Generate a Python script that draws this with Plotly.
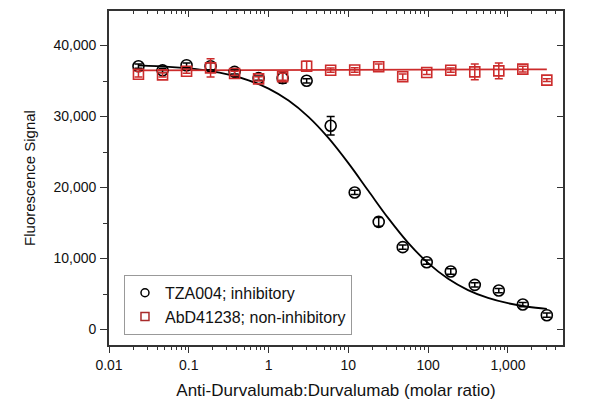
import plotly.graph_objects as go

# Molar ratios (serial 2-fold dilution)
ratio = [0.0234, 0.0469, 0.0938, 0.1875, 0.375, 0.75, 1.5, 3, 6, 12, 24, 48, 96, 192, 384, 768, 1536, 3072]

# TZA004; inhibitory
tza_y = [37080, 36500, 37230, 37080, 36290, 35400, 35400, 35030, 28700, 19300, 15160, 11600, 9480, 8170, 6290, 5490, 3520, 2020]
tza_err = [300, 300, 300, 500, 300, 300, 700, 300, 1300, 300, 600, 300, 300, 400, 300, 300, 300, 300]

# AbD41238; non-inhibitory
abd_y = [35960, 35870, 36380, 36850, 36060, 35300, 35590, 37080, 36520, 36550, 37000, 35590, 36200, 36520, 36290, 36430, 36670, 35120]
abd_err = [400, 300, 300, 1300, 300, 300, 500, 700, 300, 300, 400, 400, 300, 300, 1100, 1100, 400, 200]

# Fitted curves
fit_x = [0.0234, 0.0562, 0.1, 0.178, 0.316, 0.562, 1.0, 1.78, 3.16, 5.62, 10, 17.8, 31.6, 56.2, 100, 178, 316, 562, 1000, 1778, 3072]
tza_fit = [37195, 36997, 36772, 36427, 35898, 35103, 33929, 32252, 29952, 26985, 23432, 19542, 15682, 12208, 9343, 7147, 5556, 4451, 3704, 3209, 2896]
abd_fit_x = [0.0234, 3072]
abd_fit = [36500, 36650]

series_names = ["TZA004; inhibitory", "AbD41238; non-inhibitory"]

x_tickvals = [0.01, 0.1, 1, 10, 100, 1000]
x_ticktext = ["0.01", "0.1", "1", "10", "100", "1,000"]
y_tickvals = [0, 10000, 20000, 30000, 40000]
y_ticktext = ["0", "10,000", "20,000", "30,000", "40,000"]

RED = "#cc2b2b"
AX = "#333333"
FONT = "Liberation Sans, Arial, sans-serif"

fig = go.Figure()
fig.add_trace(go.Scatter(x=fit_x, y=tza_fit, mode="lines", line=dict(color="black", width=1.8, shape="spline"),
                         showlegend=False, hoverinfo="skip"))
fig.add_trace(go.Scatter(x=abd_fit_x, y=abd_fit, mode="lines", line=dict(color=RED, width=1.8),
                         showlegend=False, hoverinfo="skip"))
fig.add_trace(go.Scatter(x=ratio, y=tza_y, mode="markers", name=series_names[0], showlegend=False,
                         marker=dict(symbol="circle-open", size=11, color="black", line=dict(width=1.6)),
                         error_y=dict(type="data", array=tza_err, color="black", thickness=1.5, width=4)))
fig.add_trace(go.Scatter(x=ratio, y=abd_y, mode="markers", name=series_names[1], showlegend=False,
                         marker=dict(symbol="square-open", size=10, color=RED, line=dict(width=1.6)),
                         error_y=dict(type="data", array=abd_err, color=RED, thickness=1.5, width=4)))
# legend-only entries with smaller symbols
fig.add_trace(go.Scatter(x=[None], y=[None], mode="markers", name=series_names[0],
                         marker=dict(symbol="circle-open", size=8, color="black", line=dict(width=1.5))))
fig.add_trace(go.Scatter(x=[None], y=[None], mode="markers", name=series_names[1],
                         marker=dict(symbol="square-open", size=8, color="#a82a2a", line=dict(width=1.5))))
# dummy trace for mirrored axes
fig.add_trace(go.Scatter(x=[1], y=[20000], xaxis="x2", yaxis="y2", mode="markers",
                         marker=dict(opacity=0), showlegend=False, hoverinfo="skip"))

xr = [-2, 3.69]
yr = [-2180, 44860]

fig.update_layout(
    width=600, height=400,
    margin=dict(l=109, r=37, t=11, b=55),
    paper_bgcolor="white", plot_bgcolor="white",
    font=dict(family=FONT, size=14, color="#111"),
    xaxis=dict(type="log", range=xr, tickvals=x_tickvals, ticktext=x_ticktext, automargin=False,
               ticks="outside", ticklen=6, tickwidth=1.3, tickcolor=AX,
               showline=True, linecolor=AX, linewidth=1.7, showgrid=False, zeroline=False,
               minor=dict(ticks="outside", ticklen=3, tickwidth=1, tickcolor=AX, dtick="D1", showgrid=False),
               title=dict(text="Anti-Durvalumab:Durvalumab (molar ratio)", font=dict(size=17), standoff=12),
               tickfont=dict(size=14)),
    yaxis=dict(range=yr, tickvals=y_tickvals, ticktext=y_ticktext, automargin=False,
               ticks="outside", ticklen=7, tickwidth=1.3, tickcolor=AX,
               showline=True, linecolor=AX, linewidth=1.7, showgrid=False, zeroline=False,
               minor=dict(ticks="outside", ticklen=4, tickwidth=1, tickcolor=AX, dtick=5000, showgrid=False),
               title=dict(text="Fluorescence Signal", font=dict(size=15), standoff=14),
               tickfont=dict(size=14), ticklabelstandoff=1),
    xaxis2=dict(type="log", range=xr, overlaying="x", side="top", anchor="y", automargin=False,
                tickvals=x_tickvals, showticklabels=False,
                ticks="inside", ticklen=6, tickwidth=1.3, tickcolor=AX,
                showline=True, linecolor=AX, linewidth=1.7, showgrid=False, zeroline=False,
                minor=dict(ticks="inside", ticklen=3, tickwidth=1, tickcolor=AX, dtick="D1", showgrid=False)),
    yaxis2=dict(range=yr, overlaying="y", side="right", anchor="x", automargin=False,
                tickvals=y_tickvals, showticklabels=False,
                ticks="inside", ticklen=6, tickwidth=1.3, tickcolor=AX,
                showline=True, linecolor=AX, linewidth=1.7, showgrid=False, zeroline=False),
    legend=dict(x=0.033, y=0.21, xanchor="left", yanchor="top",
                bgcolor="white", bordercolor="#999", borderwidth=1,
                font=dict(size=16, color="#111"), tracegroupgap=0, itemwidth=30),
    showlegend=True,
)

fig.write_html("out.html")
